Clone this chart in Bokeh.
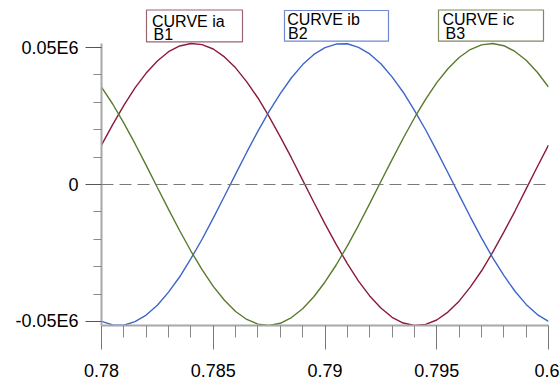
from bokeh.plotting import figure
from bokeh.models import FixedTicker, Span, Label, BoxAnnotation, Range1d
from bokeh.embed import file_html
from bokeh.resources import INLINE

# ---- data ----
t = [0.78, 0.7805, 0.781, 0.7815, 0.782, 0.7825, 0.783, 0.7835, 0.784, 0.7845,
     0.785, 0.7855, 0.786, 0.7865, 0.787, 0.7875, 0.788, 0.7885, 0.789, 0.7895,
     0.79, 0.7905, 0.791, 0.7915, 0.792, 0.7925, 0.793, 0.7935, 0.794, 0.7945,
     0.795, 0.7955, 0.796, 0.7965, 0.797, 0.7975, 0.798, 0.7985, 0.799, 0.7995, 0.8]

ia = [14400, 21900, 28900, 35300, 40700, 45100, 48500, 50600, 51500, 51100,
      49500, 46600, 42600, 37500, 31600, 24800, 17400, 9700, 1600, -6500,
      -14400, -21900, -28900, -35300, -40700, -45100, -48500, -50600, -51500, -51100,
      -49500, -46600, -42600, -37500, -31600, -24800, -17400, -9700, -1600, 6500, 14400]

ib = [-50000, -51300, -51400, -50100, -47700, -44100, -39300, -33700, -27100, -20000,
      -12300, -4300, 3800, 11800, 19500, 26700, 33200, 39000, 43800, 47500,
      50000, 51300, 51400, 50100, 47700, 44100, 39300, 33700, 27100, 20000,
      12300, 4300, -3800, -11800, -19500, -26700, -33200, -39000, -43800, -47500, -50000]

ic = [35600, 29400, 22400, 14900, 7000, -1100, -9100, -16900, -24300, -31100,
      -37200, -42300, -46400, -49300, -51000, -51500, -50700, -48600, -45400, -41000,
      -35600, -29400, -22400, -14900, -7000, 1100, 9100, 16900, 24300, 31100,
      37200, 42300, 46400, 49300, 51000, 51500, 50700, 48600, 45400, 41000, 35600]

series_names = ["CURVE ia", "CURVE ib", "CURVE ic"]
series_sub = ["B1", "B2", "B3"]

x_ticks = [0.78, 0.785, 0.79, 0.795, 0.8]
x_tick_labels = ["0.78", "0.785", "0.79", "0.795", "0.6"]
x_minor = [0.781, 0.782, 0.783, 0.784, 0.786, 0.787, 0.788, 0.789,
           0.791, 0.792, 0.793, 0.794, 0.796, 0.797, 0.798, 0.799]
y_ticks = [-50000, 0, 50000]
y_tick_labels = ["-0.05E6", "0", "0.05E6"]
y_minor = [-40000, -30000, -20000, -10000, 10000, 20000, 30000, 40000]

# ---- layout / styles ----
colors = ["#8b1a3c", "#3d66c9", "#5a7a2e"]
box_colors = ["#9a6374", "#7088d2", "#7c8a5c"]
FONT = "Liberation Sans"

W, H = 559, 381
X0, X1 = 0.78, 0.8
Y0, Y1 = -51500, 51500          # extent of the drawn y axis
ML, MR, MB = 101, 11, 56        # frame borders (px)
AX_TOP = 43                     # pixel row where the y axis ends (value Y1)
FW = W - ML - MR
FH = H - MB                     # frame starts at the canvas top
YTOP = Y1 + AX_TOP * (Y1 - Y0) / (FH - AX_TOP)


def dx(px):  # canvas pixel -> data x
    return X0 + (px - ML) / FW * (X1 - X0)


def dy(py):  # canvas pixel -> data y
    return YTOP - py / FH * (YTOP - Y0)


p = figure(width=W, height=H, output_backend="svg", toolbar_location=None,
           x_range=Range1d(X0, X1), y_range=Range1d(Y0, YTOP),
           min_border_left=ML, min_border_right=MR,
           min_border_top=0, min_border_bottom=MB)
p.outline_line_color = None
p.xgrid.visible = False
p.ygrid.visible = False
p.background_fill_color = "white"
p.border_fill_color = "white"

for ax in (p.xaxis[0], p.yaxis[0]):
    ax.axis_line_color = "#a8a8a8"
    ax.axis_line_width = 2
    ax.major_tick_line_color = "#777777"
    ax.minor_tick_line_color = "#888888"
    ax.major_tick_in = 0
    ax.minor_tick_in = 0
    ax.major_label_text_font = FONT
    ax.major_label_text_font_size = "18px"
    ax.major_label_text_color = "black"

p.xaxis.ticker = FixedTicker(ticks=x_ticks, minor_ticks=x_minor)
p.xaxis.major_label_overrides = {v: s for v, s in zip(x_ticks, x_tick_labels)}
p.xaxis.major_tick_out = 24
p.xaxis.minor_tick_out = 12
p.xaxis.major_label_standoff = 14

p.yaxis.ticker = FixedTicker(ticks=y_ticks, minor_ticks=y_minor)
p.yaxis.major_label_overrides = {v: s for v, s in zip(y_ticks, y_tick_labels)}
p.yaxis.bounds = (Y0, Y1)
p.yaxis.major_tick_out = 16
p.yaxis.minor_tick_out = 8
p.yaxis.major_label_standoff = 7
p.yaxis.major_tick_line_color = "#555555"

p.add_layout(Span(location=0, dimension="width", line_color="#7a7a7a",
                  line_width=1, line_dash="12 6"))

for ys, c in zip([ia, ib, ic], colors):
    p.line(t, ys, line_color=c, line_width=1.4)

# legend boxes (canvas-pixel layout)
boxes = [(146, 242, 9.5, 41.3), (284, 388, 10, 40.7), (438, 543, 9.5, 40.7)]
text1 = [(151.5, 21), (286.7, 19), (442, 18.5)]
text2 = [(153, 33.5), (287.5, 33), (445, 33)]
for i in range(3):
    l, r, tp, bt = boxes[i]
    p.add_layout(BoxAnnotation(left=dx(l), right=dx(r), top=dy(tp), bottom=dy(bt),
                               fill_color="white", fill_alpha=1.0,
                               line_color=box_colors[i], line_alpha=1.0,
                               line_width=1.2, level="overlay"))
    p.add_layout(Label(x=dx(text1[i][0]), y=dy(text1[i][1]), text=series_names[i],
                       text_font=FONT, text_font_size="16px", text_color="black",
                       text_baseline="alphabetic", text_align="left", level="overlay"))
    p.add_layout(Label(x=dx(text2[i][0]), y=dy(text2[i][1]), text=series_sub[i],
                       text_font=FONT, text_font_size="16px", text_color="black",
                       text_baseline="alphabetic", text_align="left", level="overlay"))

open("out.html", "w").write(file_html(p, INLINE))
